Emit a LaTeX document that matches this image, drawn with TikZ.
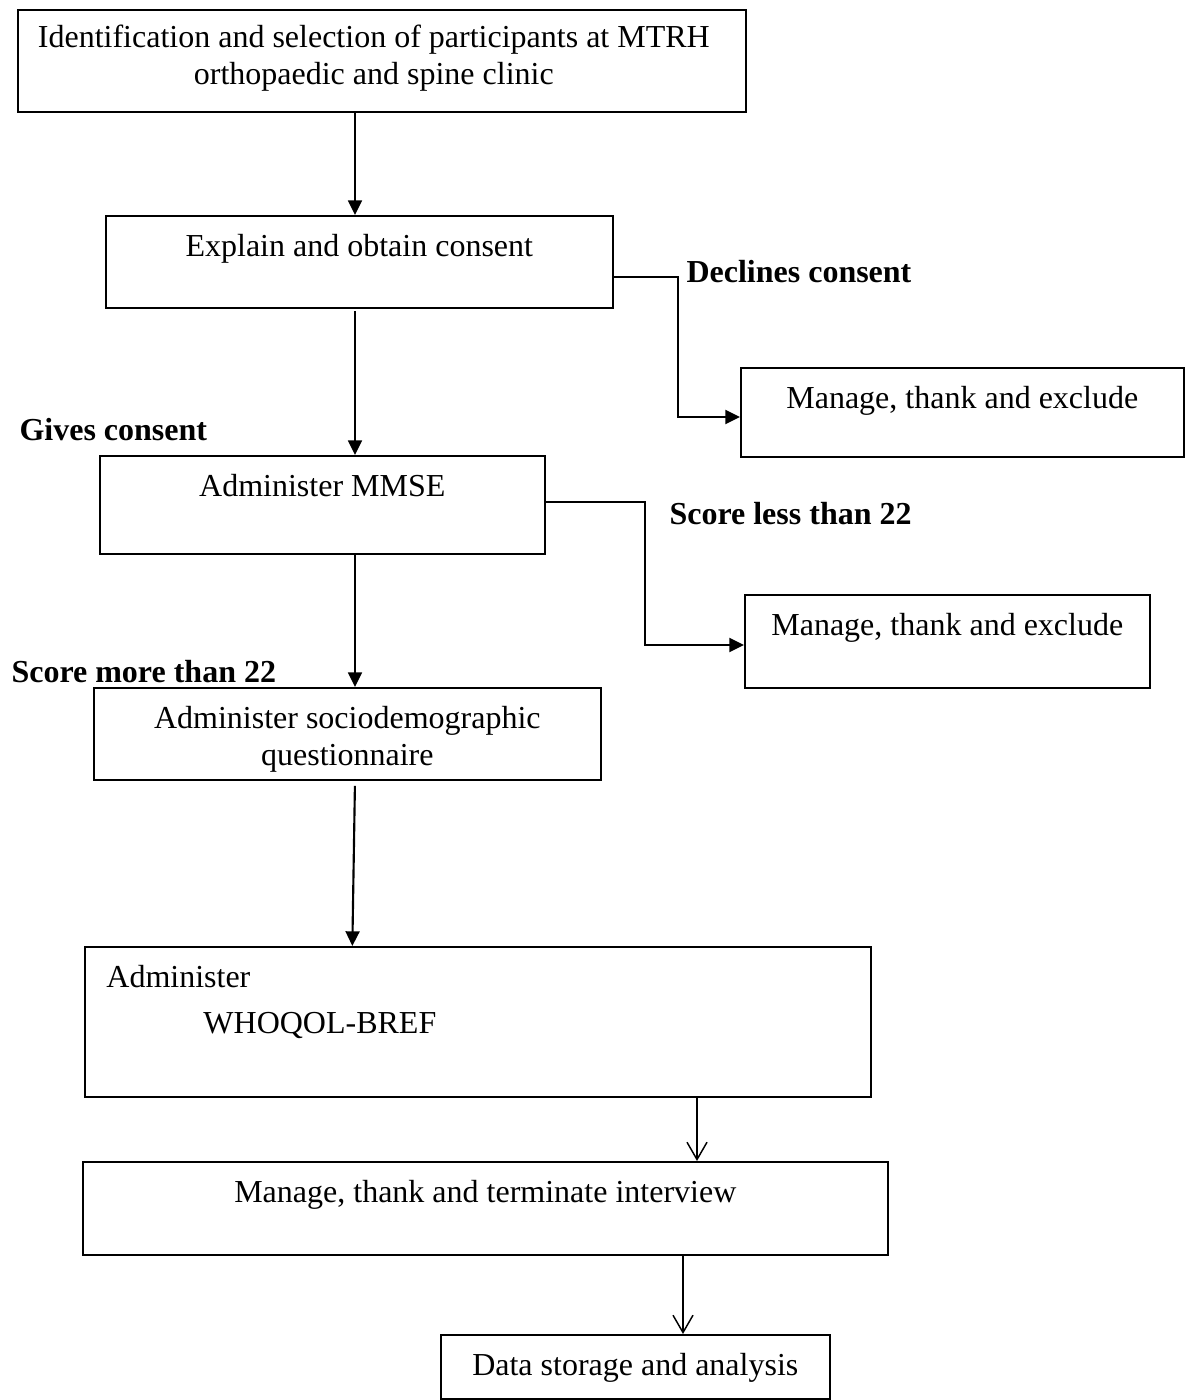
\documentclass[tikz,border=0pt]{standalone}
\usepackage{fontspec}
\setmainfont{Liberation Serif}
\usetikzlibrary{positioning,arrows.meta}
\newcommand{\pxu}{0.375pt}
\tikzset{
  box/.style={draw, line width=0.6pt, inner sep=0pt, anchor=north west},
  txt/.style={inner sep=0pt, align=center},
  lbl/.style={inner sep=0pt, anchor=west, font=\fontsize{12pt}{13.8pt}\selectfont\bfseries},
  arr/.style={line width=0.8pt, -{Triangle[length=5.5pt,width=5.2pt]}},
  elbow/.style={arr, line width=0.9pt},
  openarr/.style={line width=0.55pt, -{Straight Barb[length=6.5pt,width=7.5pt]}},
}
\begin{document}
\begin{tikzpicture}[x=\pxu, y=-\pxu, font=\fontsize{12pt}{13.8pt}\selectfont]
        \useasboundingbox (0,0) rectangle (1185,1400);

        % boxes
        \node[box, minimum width=728*\pxu, minimum height=102*\pxu] (ident) at (17,9) {};
        \node[box, minimum width=507*\pxu, minimum height=92*\pxu] (consent) at (105,215) {};
        \node[box, minimum width=443*\pxu, minimum height=89*\pxu] (declined) at (740,367) {};
        \node[box, minimum width=445*\pxu, minimum height=98*\pxu] (mmse) at (99,455) {};
        \node[box, minimum width=405*\pxu, minimum height=93*\pxu] (lowscore) at (744,594) {};
        \node[box, minimum width=507*\pxu, minimum height=92*\pxu] (socio) at (93,687) {};
        \node[box, minimum width=786*\pxu, minimum height=150*\pxu] (whoqol) at (84,946) {};
        \node[box, minimum width=805*\pxu, minimum height=93*\pxu] (interview) at (82,1161) {};
        \node[box, minimum width=389*\pxu, minimum height=64*\pxu] (storage) at (440,1334) {};

        % box texts
        \node[txt, below=5.9pt of ident.north, xshift=-3pt] (identT) {Identification and selection of participants at MTRH\\orthopaedic and spine clinic};
        \node[txt, below=7pt of consent.north] (consentT) {Explain and obtain consent};
        \node[txt, below=7pt of declined.north] (declinedT) {Manage, thank and exclude};
        \node[txt, below=7pt of mmse.north] (mmseT) {Administer MMSE};
        \node[txt, below=7pt of lowscore.north] (lowscoreT) {Manage, thank and exclude};
        \node[txt, below=7pt of socio.north] (socioT) {Administer sociodemographic\\questionnaire};
        \node[txt, align=left, below right=7pt and 8.2pt of whoqol.north west] (whoqolT) {Administer\\[3.4pt]\hspace{36.4pt}WHOQOL-BREF};
        \node[txt, below=7pt of interview.north] (interviewT) {Manage, thank and terminate interview};
        \node[txt, below=7pt of storage.north] (storageT) {Data storage and analysis};

        % branch labels
        \node[lbl] (declines) at (686,272) {Declines consent};
        \node[lbl] (gives) at (19,430) {Gives consent};
        \node[lbl] (less) at (669,514) {Score less than 22};
        \node[lbl] (more) at (11,672) {Score more than 22};

        % connectors
        \coordinate (col) at (355,0);
        \coordinate (dec1) at (678,277);
        \coordinate (dec2) at (678,417);
        \coordinate (low1) at (645,502);
        \coordinate (low2) at (645,645);
        \coordinate (col2) at (697,0);
        \coordinate (col3) at (683,0);

        \draw[arr] (ident.south -| col) -- (consent.north -| col);
        \draw[arr, shorten <=1pt] (consent.south -| col) -- (mmse.north -| col);
        \draw[arr] (mmse.south -| col) -- (socio.north -| col);
        \draw[arr, shorten <=2pt] (socio.south -| col) -- ([xshift=-1pt]whoqol.north -| col);
        \draw[elbow] (consent.east |- dec1) -- (dec1) -- (dec2) -- (declined.west |- dec2);
        \draw[elbow] (mmse.east |- low1) -- (low1) -- (low2) -- (lowscore.west |- low2);
        \draw[openarr] (whoqol.south -| col2) -- (interview.north -| col2);
        \draw[openarr] (interview.south -| col3) -- (storage.north -| col3);
\end{tikzpicture}
\end{document}
